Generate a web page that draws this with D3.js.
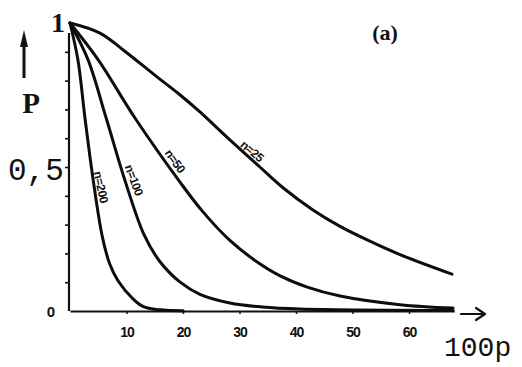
<!DOCTYPE html>
<html>
<head>
<meta charset="utf-8">
<script src="https://cdn.jsdelivr.net/npm/d3@7/dist/d3.min.js"></script>
<style>
  html, body { margin: 0; padding: 0; background: #fff; }
  svg { display: block; }
</style>
</head>
<body>
<script>
// Acceptance probability P against percent defective 100p, one curve per sample size n.
const sampleSizes = [200, 100, 50, 25];

const curveN200 = [[0,1],[1.4,0.872],[2.65,0.67],[4.1,0.455],[5.7,0.26],[7,0.165],[8.5,0.105],[11,0.045],[12.9,0.016],[15.9,0.004],[20,0.001]];
const curveN100 = [[0,1],[3.2,0.872],[6.4,0.67],[9.7,0.455],[13.1,0.265],[15.9,0.172],[19.5,0.1],[23,0.058],[28.3,0.028],[34,0.014],[40.7,0.007],[67.8,0.002]];
const curveN50  = [[0,1],[5,0.872],[11.5,0.67],[19.6,0.444],[23.5,0.345],[28.3,0.245],[33,0.172],[37.2,0.122],[42,0.083],[47.8,0.052],[58.4,0.022],[67.8,0.01]];
const curveN25  = [[0,1],[5.3,0.965],[10.1,0.896],[15,0.819],[19.5,0.75],[23,0.691],[28.3,0.594],[33.6,0.5],[37.7,0.428],[43,0.351],[47.8,0.294],[52.6,0.247],[58.4,0.196],[67.6,0.128]];

const xTicks = [10, 20, 30, 40, 50, 60];
const yMinorTicks = [0.1, 0.2, 0.3, 0.4, 0.5, 0.6, 0.7, 0.8, 0.9];

const curves = [curveN200, curveN100, curveN50, curveN25];

const W = 522, H = 367;
const svg = d3.select("body").append("svg").attr("width", W).attr("height", H);

const x = d3.scaleLinear().domain([0, 68]).range([70, 454.2]);
const y = d3.scaleLinear().domain([0, 1]).range([311, 23]);

// x axis
const xAxis = svg.append("g")
  .attr("transform", `translate(0,${y(0)})`)
  .call(d3.axisBottom(x).tickValues(xTicks).tickSize(3).tickSizeOuter(0).tickPadding(13).tickFormat(d3.format("d")));
xAxis.select(".domain").attr("stroke", "#111").attr("stroke-width", 2.2);
xAxis.selectAll(".tick line").attr("stroke", "#111").attr("stroke-width", 1.5);
xAxis.selectAll(".tick text")
  .attr("fill", "#111")
  .style("font", "bold 14px 'Liberation Sans', sans-serif")
  .style("letter-spacing", "-1px");

// x axis arrow
svg.append("path")
  .attr("d", "M461,314 L484,314 M476,308 L485,314 L476,320")
  .attr("fill", "none").attr("stroke", "#111").attr("stroke-width", 2.2)
  .attr("stroke-linecap", "round").attr("stroke-linejoin", "round");

// y axis
const yAxis = svg.append("g")
  .attr("transform", `translate(${x(0) - 1},0)`)
  .call(d3.axisLeft(y).tickValues(yMinorTicks).tickSize(4).tickSizeOuter(0).tickFormat(""));
yAxis.select(".domain").remove();
yAxis.selectAll(".tick line").attr("stroke", "#111").attr("stroke-width", 1.6);
svg.append("line")
  .attr("x1", x(0) - 1).attr("x2", x(0) - 1)
  .attr("y1", y(0)).attr("y2", y(0.965))
  .attr("stroke", "#111").attr("stroke-width", 2.2);

// curves
const line = d3.line()
  .x(d => x(d[0]))
  .y(d => y(d[1]))
  .curve(d3.curveCatmullRom.alpha(0.5));

svg.append("g").selectAll("path")
  .data(curves)
  .join("path")
  .attr("d", line)
  .attr("fill", "none")
  .attr("stroke", "#0d0d0d")
  .attr("stroke-width", 3)
  .attr("stroke-linecap", "round");

// curve labels, set along each curve
const labelSpots = [
  { px: 101, py: 187, rot: 78 },
  { px: 134, py: 180, rot: 70 },
  { px: 175, py: 161, rot: 55 },
  { px: 252, py: 151, rot: 40 }
];
svg.append("g").selectAll("text")
  .data(sampleSizes)
  .join("text")
  .attr("transform", (d, i) => `translate(${labelSpots[i].px},${labelSpots[i].py}) rotate(${labelSpots[i].rot})`)
  .attr("text-anchor", "middle")
  .attr("dy", "0.35em")
  .attr("fill", "#111")
  .style("font", "bold 12px 'Liberation Sans', sans-serif")
  .style("letter-spacing", "-0.5px")
  .text(d => `n=${d}`);

// y axis labels
svg.append("text").attr("x", 58).attr("y", 32).attr("text-anchor", "middle")
  .style("font", "bold 28px 'Liberation Serif', serif").attr("fill", "#111").text("1");
svg.append("text").attr("x", 8).attr("y", 180)
  .style("font", "31px 'Liberation Mono', monospace").attr("fill", "#111").text("0,5");
svg.append("text").attr("x", 51).attr("y", 317).attr("text-anchor", "middle")
  .style("font", "bold 15px 'Liberation Sans', sans-serif").attr("fill", "#111").text("0");

// axis titles
svg.append("text").attr("x", 31).attr("y", 113).attr("text-anchor", "middle")
  .style("font", "bold 29px 'Liberation Serif', serif").attr("fill", "#111").text("P");
svg.append("line")
  .attr("x1", 24).attr("x2", 24).attr("y1", 78).attr("y2", 44)
  .attr("stroke", "#111").attr("stroke-width", 3);
svg.append("path")
  .attr("d", "M24,30 L28,47 L20,47 Z").attr("fill", "#111");

svg.append("text").attr("x", 444).attr("y", 356)
  .style("font", "28px 'Liberation Mono', monospace").attr("fill", "#111").text("100p");

// panel tag
svg.append("text").attr("x", 385).attr("y", 40).attr("text-anchor", "middle")
  .style("font", "bold 22px 'Liberation Serif', serif").attr("fill", "#111").text("(a)");
</script>
</body>
</html>
